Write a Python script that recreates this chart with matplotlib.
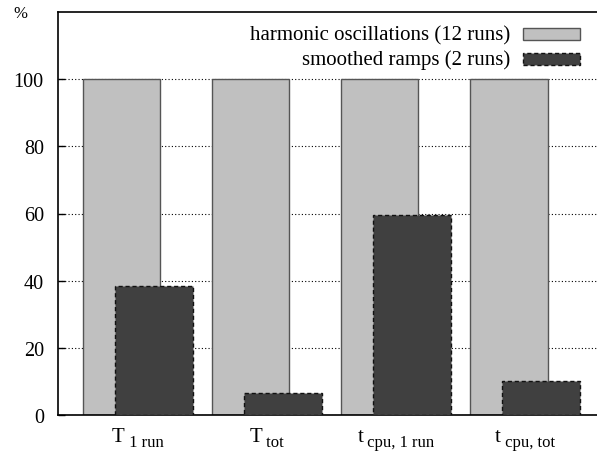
import matplotlib

matplotlib.use("Agg")
import matplotlib.pyplot as plt
import numpy as np
from matplotlib.patches import Rectangle
from matplotlib.transforms import offset_copy

plt.rcParams["font.family"] = ["Liberation Serif", "DejaVu Serif"]

# Relative cost in percent of the harmonic-oscillation run
cat_main = ["T", "T", "t", "t"]
cat_sub = ["1 run", "tot", "cpu, 1 run", "cpu, tot"]
harmonic = [100, 100, 100, 100]
smoothed = [38.4, 6.6, 59.7, 10.0]
series_labels = ["harmonic oscillations (12 runs)", "smoothed ramps (2 runs)"]

W, H = 597, 452
fig = plt.figure(figsize=(W / 100, H / 100), dpi=100)
ax = fig.add_axes([57.7 / W, 1 - 415.7 / H, (605 - 57.7) / W, (415.7 - 13.3) / H])

x = np.arange(len(cat_main))
width = 0.6
off = 0.125

light_style = dict(facecolor="#c0c0c0", edgecolor="#555555", linewidth=1.0)
dark_style = dict(facecolor="#404040", edgecolor="#111111", linewidth=1.0,
                  linestyle=(0, (3, 2)))

ax.bar(x - off, harmonic, width, zorder=2, **light_style)
ax.bar(x + off, smoothed, width, zorder=3, **dark_style)

ax.set_xlim(-0.62, 3.62)
ax.set_ylim(0, 120)
ax.set_yticks([0, 20, 40, 60, 80, 100])
ax.set_xticks(x)
ax.set_xticklabels([])
ax.tick_params(axis="y", direction="in", length=5, width=1, labelsize=14.5, pad=10)
ax.tick_params(axis="x", length=0)

ax.yaxis.grid(True, color="black", linestyle=(0, (1, 2)), linewidth=0.8, zorder=0)
ax.set_axisbelow(True)
for sp in ax.spines.values():
    sp.set_linewidth(1.2)

# x labels: letter plus lowered, smaller subscript (gnuplot-style)
renderer = fig.canvas.get_renderer()
base = ax.get_xaxis_transform()
for xi, m, s in zip(x, cat_main, cat_sub):
    t1 = ax.text(xi, 0, m, fontsize=15, ha="left", va="baseline")
    t2 = ax.text(xi, 0, " " + s, fontsize=12, ha="left", va="baseline")
    w1 = t1.get_window_extent(renderer).width
    w2 = t2.get_window_extent(renderer).width
    start = -(w1 + w2) / 2
    t1.set_transform(offset_copy(base, fig, x=start, y=-26.5, units="dots"))
    t2.set_transform(offset_copy(base, fig, x=start + w1, y=-31, units="dots"))

fig.text(13 / W, 1 - 14 / H, "%", fontsize=12, ha="left", va="center")

# key in the top right corner, labels to the left of the swatches
for i, (lab, st) in enumerate(zip(series_labels, [light_style, dark_style])):
    y_top = 29.3 + i * 25
    fig.patches.append(Rectangle((522.7 / W, 1 - (y_top + 12) / H), 57.6 / W, 12 / H,
                                 transform=fig.transFigure, figure=fig, **st))
    fig.text(510 / W, 1 - (y_top + 11) / H, lab, fontsize=15, ha="right", va="baseline")

fig.savefig("out.png", dpi=100)
